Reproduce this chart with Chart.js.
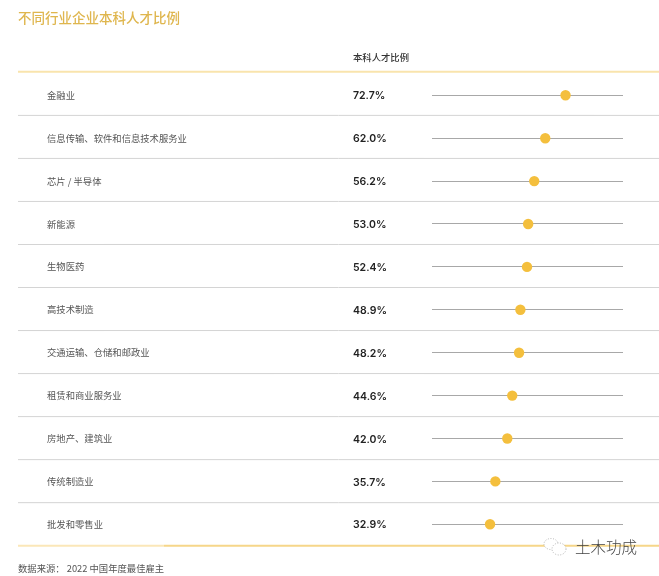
<!DOCTYPE html>
<html lang="zh">
<head>
<meta charset="utf-8">
<script src="https://cdn.jsdelivr.net/npm/chart.js@4"></script>
<style>
html,body{margin:0;padding:0;background:#fff;overflow:hidden}
#wrap{position:relative;width:659px;height:576px;font-family:"Noto Sans CJK SC","Noto Sans",sans-serif}
canvas{position:absolute;left:0;top:0}
.t{position:absolute;white-space:nowrap;line-height:1}
#title{left:18px;top:11px;font-size:13.5px;color:#dfb64e;font-weight:500}
#header{left:353px;top:52.5px;font-size:9.33px;color:#333;font-weight:500}
#source{left:18px;top:564px;font-size:9.33px;color:#555}
#mark{left:575px;top:539px;font-size:15.5px;color:#444;font-weight:300}
#icon{position:absolute;left:543px;top:537px}
</style>
</head>
<body>
<div id="wrap">
<canvas id="c" width="659" height="576"></canvas>
<div class="t" id="title">不同行业企业本科人才比例</div>
<div class="t" id="header">本科人才比例</div>
<div class="t" id="source">数据来源： 2022 中国年度最佳雇主</div>
<svg id="icon" width="26" height="20" viewBox="0 0 26 20" fill="#fff" stroke="#888" stroke-width=".6" stroke-dasharray="1 1.6">
<ellipse cx="8" cy="7" rx="7" ry="5.5"/><ellipse cx="16" cy="12" rx="7" ry="6"/></svg>
<div class="t" id="mark">土木功成</div>
</div>
<script>
const categories = ["金融业","信息传输、软件和信息技术服务业","芯片 / 半导体","新能源","生物医药","高技术制造","交通运输、仓储和邮政业","租赁和商业服务业","房地产、建筑业","传统制造业","批发和零售业"];
const shares = [72.7,62.0,56.2,53.0,52.4,48.9,48.2,44.6,42.0,35.7,32.9];
const shareLabels = shares.map(v => v.toFixed(1) + "%");

const rowRules = {
  id: "rowRules",
  beforeDraw(chart) {
    const ctx = chart.ctx;
    ctx.save();
    const line = (x0, x1, y, color, w) => {
      ctx.strokeStyle = color; ctx.lineWidth = w;
      ctx.beginPath(); ctx.moveTo(x0, y); ctx.lineTo(x1, y); ctx.stroke();
    };
    line(18, 659, 71.8, "#f9e4ad", 2);
    for (let i = 0; i < categories.length - 1; i++) {
      line(18, 659, 115.4 + i * 43.03, "#d4d4d4", 1);
    }
    line(18, 164, 545.8, "#fbe7b8", 2);
    line(164, 659, 545.8, "#f6d689", 2);
    ctx.restore();
  }
};

new Chart(document.getElementById("c"), {
  type: "line",
  data: {
    labels: categories,
    datasets: [{
      data: shares,
      yAxisID: "y",
      showLine: false,
      pointRadius: 5.2,
      pointHoverRadius: 5.2,
      pointBorderWidth: 0,
      pointBackgroundColor: "#f4bf3d"
    }]
  },
  plugins: [rowRules],
  options: {
    indexAxis: "y",
    responsive: false,
    animation: false,
    layout: { padding: { left: 47, right: 36, top: 73.85, bottom: 30.25 } },
    plugins: { legend: { display: false }, title: { display: false }, tooltip: { enabled: false } },
    scales: {
      x: { type: "linear", min: 2.3, max: 103, display: false },
      y: {
        type: "category", labels: categories, weight: 1, offset: true,
        afterFit(s) { s.width = 306; },
        grid: { offset: false, color: "#a8a8a8", lineWidth: 1, drawTicks: false },
        border: { display: false },
        ticks: { crossAlign: "far", autoSkip: false, padding: 0, color: "#555",
                 font: { family: '"Noto Sans CJK SC"', size: 9.33 } }
      },
      yValue: {
        type: "category", labels: shareLabels, weight: 0, offset: true, position: "left",
        afterFit(s) {
          s.width = 79;
          if (!s._nudged) {
            const base = s.getPixelForTick;
            s.getPixelForTick = i => base.call(s, i) + 1;
            s._nudged = true;
          }
        },
        grid: { display: false, drawTicks: false },
        border: { display: false },
        ticks: { crossAlign: "far", autoSkip: false, padding: 0, color: "#222",
                 font: { family: 'Inter, sans-serif', size: 10.5, weight: "600" } }
      }
    }
  }
});
</script>
</body>
</html>
